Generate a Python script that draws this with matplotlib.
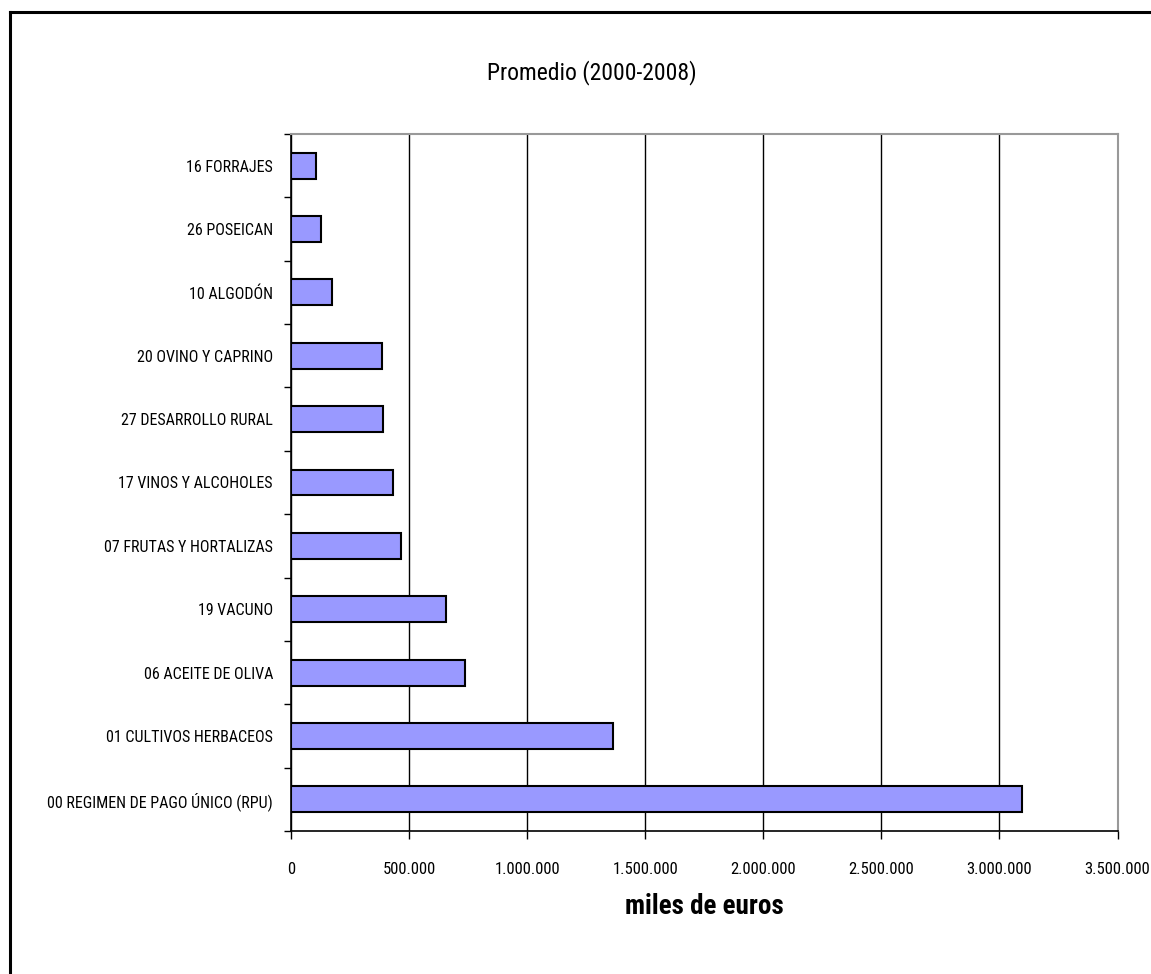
import matplotlib.pyplot as plt
from matplotlib import font_manager
from matplotlib.ticker import FuncFormatter, FixedLocator
import numpy as np

# datos (miles de euros), de abajo hacia arriba
categorias = [
    "00 REGIMEN DE PAGO ÚNICO (RPU)",
    "01 CULTIVOS HERBACEOS",
    "06 ACEITE DE OLIVA",
    "19 VACUNO",
    "07 FRUTAS Y HORTALIZAS",
    "17 VINOS Y ALCOHOLES",
    "27 DESARROLLO RURAL",
    "20 OVINO Y CAPRINO",
    "10 ALGODÓN",
    "26 POSEICAN",
    "16 FORRAJES",
]
valores = [3095000, 1364000, 735000, 655000, 464000, 434000, 391000, 386000, 172000, 125000, 105000]
xticks = [0, 500000, 1000000, 1500000, 2000000, 2500000, 3000000, 3500000]

# buscar una fuente estrecha si existe
nombres = {f.name for f in font_manager.fontManager.ttflist}
fuente = "Roboto"
for cand in ["Liberation Sans Narrow", "Roboto Condensed", "Open Sans Condensed", "Noto Sans Condensed", "Arial Narrow"]:
    if cand in nombres:
        fuente = cand
        break
plt.rcParams["font.family"] = [fuente, "DejaVu Sans"]

W, H = 1151, 974
fig = plt.figure(figsize=(W / 100, H / 100), dpi=100)
ax = fig.add_axes([291 / W, 1 - 831 / H, (1117.5 - 291) / W, (831 - 134) / H])

y = np.arange(len(categorias))
ax.barh(y, valores, height=0.41, color="#9999FF", edgecolor="black", linewidth=1.5, zorder=3)

ax.set_xlim(0, 3500000)
ax.set_ylim(-0.5, len(categorias) - 0.5)
ax.set_xticks(xticks)
ax.xaxis.set_major_formatter(FuncFormatter(lambda v, p: f"{int(v):,}".replace(",", ".")))
ax.grid(axis="x", color="black", linewidth=1, zorder=0)

ax.set_yticks(y)
ax.set_yticklabels(categorias, fontsize=11.5)
ax.yaxis.set_minor_locator(FixedLocator(np.arange(-0.5, len(categorias), 1)))
ax.tick_params(axis="y", which="major", length=0, pad=13)
ax.tick_params(axis="y", which="minor", length=5, width=1)
ax.tick_params(axis="x", length=6, width=1, labelsize=12, pad=16)

for lado in ["top", "right"]:
    ax.spines[lado].set_color("#999999")
    ax.spines[lado].set_linewidth(1.5)
for lado in ["left", "bottom"]:
    ax.spines[lado].set_color("black")
    ax.spines[lado].set_linewidth(1.2)

fig.text(592 / W, 1 - 73 / H, "Promedio (2000-2008)", ha="center", va="center", fontsize=17)
fig.text(704 / W, 1 - 907 / H, "miles de euros", ha="center", va="center", fontsize=19.5, fontweight="bold")

# borde de la figura (solo arriba e izquierda visibles)
fig.add_artist(plt.Line2D([9.5 / W, 9.5 / W], [0, 1 - 12 / H], color="black", linewidth=2.2))
fig.add_artist(plt.Line2D([9.5 / W, 1], [1 - 12 / H, 1 - 12 / H], color="black", linewidth=2.2))

fig.savefig("out.png", dpi=100)
